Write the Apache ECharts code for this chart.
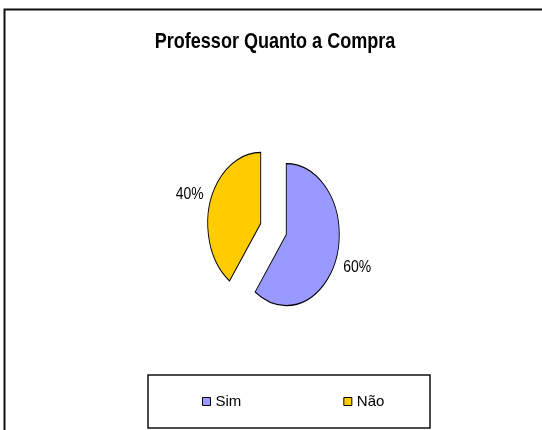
<!DOCTYPE html>
<html>
<head>
<meta charset="utf-8">
<script src="https://cdn.jsdelivr.net/npm/echarts@6/dist/echarts.min.js"></script>
<style>
  html, body { margin: 0; padding: 0; background: #fff; }
  #chart { width: 542px; height: 430px; }
</style>
</head>
<body>
<div id="chart"></div>
<script>
// dados do gráfico
const categorias = ['Sim', 'Não'];
const valores = [60, 40];
const cores = ['#9999FF', '#FFCC00'];
const titulo = 'Professor Quanto a Compra';

const FONTE = "'Liberation Sans', Arial, sans-serif";
const ESTREITO = 0.82; // simula Arial Narrow

const total = valores.reduce((a, b) => a + b, 0);

// ângulo inicial de cada fatia (topo = -90°, sentido horário)
const inicios = [];
let acum = 0;
valores.forEach(v => {
  inicios.push(-Math.PI / 2 + acum / total * Math.PI * 2);
  acum += v;
});

const myChart = echarts.init(document.getElementById('chart'));

function fatia(idx) {
  return {
    name: categorias[idx],
    type: 'custom',
    coordinateSystem: 'none',
    itemStyle: { color: cores[idx], borderColor: '#000', borderWidth: 1 },
    data: [valores[idx]],
    renderItem: function (params, api) {
      const v = api.value(0);
      const a0 = inicios[idx];
      const a1 = a0 + v / total * Math.PI * 2;
      const meio = (a0 + a1) / 2;
      const cx = api.getWidth() * 0.5046;
      const cy = api.getHeight() * 0.5326;
      const r = 71;          // raio vertical
      const sx = 53 / 71;    // pizza oval
      const afast = 18;      // explosão
      const rotR = 118;
      const pct = Math.round(v / total * 100) + '%';
      return {
        type: 'group',
        children: [
          {
            type: 'group',
            x: cx,
            y: cy,
            scaleX: sx,
            children: [{
              type: 'sector',
              shape: {
                cx: Math.cos(meio) * afast,
                cy: Math.sin(meio) * afast,
                r0: 0,
                r: r,
                startAngle: a0,
                endAngle: a1,
                clockwise: true
              },
              style: {
                fill: cores[idx],
                stroke: '#000',
                lineWidth: 1.2,
                strokeNoScale: true
              }
            }]
          },
          {
            type: 'text',
            x: cx + Math.cos(meio) * rotR * sx,
            y: cy + Math.sin(meio) * rotR + 2,
            scaleX: ESTREITO,
            style: {
              text: pct,
              fill: '#000',
              font: '17px ' + FONTE,
              align: 'center',
              verticalAlign: 'middle'
            }
          }
        ]
      };
    }
  };
}

const option = {
  backgroundColor: '#fff',
  animation: false,
  legend: {
    data: categorias,
    left: 202,
    top: 394,
    padding: 0,
    itemWidth: 8,
    itemHeight: 8,
    itemGap: 102,
    icon: 'rect',
    itemStyle: { borderColor: '#000', borderWidth: 1 },
    textStyle: { fontFamily: FONTE, fontSize: 15, color: '#000' }
  },
  graphic: [
    {
      type: 'rect',
      shape: { x: 4.5, y: 9.5, width: 600, height: 500 },
      style: { fill: null, stroke: '#111', lineWidth: 2 },
      silent: true
    },
    {
      type: 'rect',
      shape: { x: 148, y: 375, width: 282, height: 53 },
      style: { fill: null, stroke: '#111', lineWidth: 1.5 },
      silent: true
    },
    {
      type: 'text',
      x: 275,
      y: 42,
      scaleX: ESTREITO,
      silent: true,
      style: {
        text: titulo,
        font: 'bold 22px ' + FONTE,
        fill: '#000',
        align: 'center',
        verticalAlign: 'middle'
      }
    }
  ],
  series: [fatia(0), fatia(1)]
};

myChart.setOption(option);
</script>
</body>
</html>
